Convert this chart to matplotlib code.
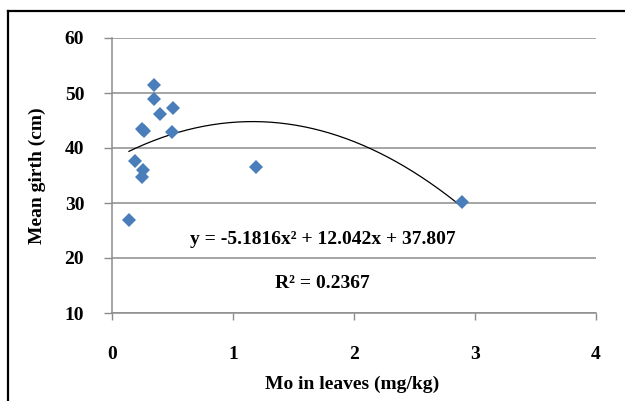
import numpy as np
import matplotlib

matplotlib.use("Agg")
import matplotlib.pyplot as plt
from matplotlib.lines import Line2D

# === Data ===
mo_leaves = [0.14, 0.19, 0.245, 0.245, 0.26, 0.264, 0.35, 0.35, 0.40, 0.496, 0.50, 1.19, 2.89]
mean_girth = [27.0, 37.7, 34.7, 43.45, 36.0, 43.1, 51.5, 48.9, 46.2, 43.0, 47.3, 36.6, 30.2]

# trendline coefficients (2nd order poly)
coef = [-5.1816, 12.042, 37.807]
r2 = 0.2367

x_ticks = [0, 1, 2, 3, 4]
y_ticks = [10, 20, 30, 40, 50, 60]

plt.rcParams["font.family"] = ["Liberation Serif", "DejaVu Serif"]
plt.rcParams["font.weight"] = "bold"

W, H = 625, 401
fig = plt.figure(figsize=(W / 100, H / 100), dpi=100)
ax = fig.add_axes([112 / W, 1 - 313 / H, (596 - 112) / W, (313 - 38) / H])

grid_col = "#8c8c8c"
ax.set_xlim(0, 4)
ax.set_ylim(10, 60)
ax.set_xticks(x_ticks)
ax.set_yticks(y_ticks)
ax.yaxis.grid(True, color=grid_col, linewidth=1.1)
ax.set_axisbelow(True)
for s in ["top", "right"]:
    ax.spines[s].set_visible(False)
for s in ["left", "bottom"]:
    ax.spines[s].set_color(grid_col)
    ax.spines[s].set_linewidth(1.1)
ax.tick_params(axis="y", length=6, width=1, color=grid_col, pad=14, labelsize=14)
ax.tick_params(axis="x", length=5, width=1, color=grid_col, pad=19, labelsize=14)

# trendline
xs = np.linspace(min(mo_leaves), max(mo_leaves), 200)
ax.plot(xs, np.polyval(coef, xs), color="black", linewidth=0.9, zorder=2)

# points
ax.plot(mo_leaves, mean_girth, linestyle="none", marker="D", markersize=7.5,
        color="#4a7ebb", markeredgewidth=0, zorder=3)

ax.set_xlabel("Mo in leaves (mg/kg)", fontsize=14, fontweight="bold")
ax.set_ylabel("Mean girth (cm)", fontsize=14, fontweight="bold")
ax.xaxis.set_label_coords(0.496, (313 - 376) / 275)
ax.yaxis.set_label_coords((46 - 112) / 484, 0.5)

ax.text(0.436, 0.2655, f"y = {coef[0]}x² + {coef[1]}x + {coef[2]}", transform=ax.transAxes,
        ha="center", va="center", fontsize=14, fontweight="bold")
ax.text(0.434, 0.109, f"R² = {r2}", transform=ax.transAxes,
        ha="center", va="center", fontsize=14, fontweight="bold")

# outer frame (only top and left edges are visible in the crop)
fig.add_artist(Line2D([8 / W, 1], [1 - 11 / H, 1 - 11 / H], color="black", linewidth=1.6,
                      transform=fig.transFigure))
fig.add_artist(Line2D([8 / W, 8 / W], [0, 1 - 11 / H], color="black", linewidth=1.6,
                      transform=fig.transFigure))

fig.savefig("out.png", dpi=100)
